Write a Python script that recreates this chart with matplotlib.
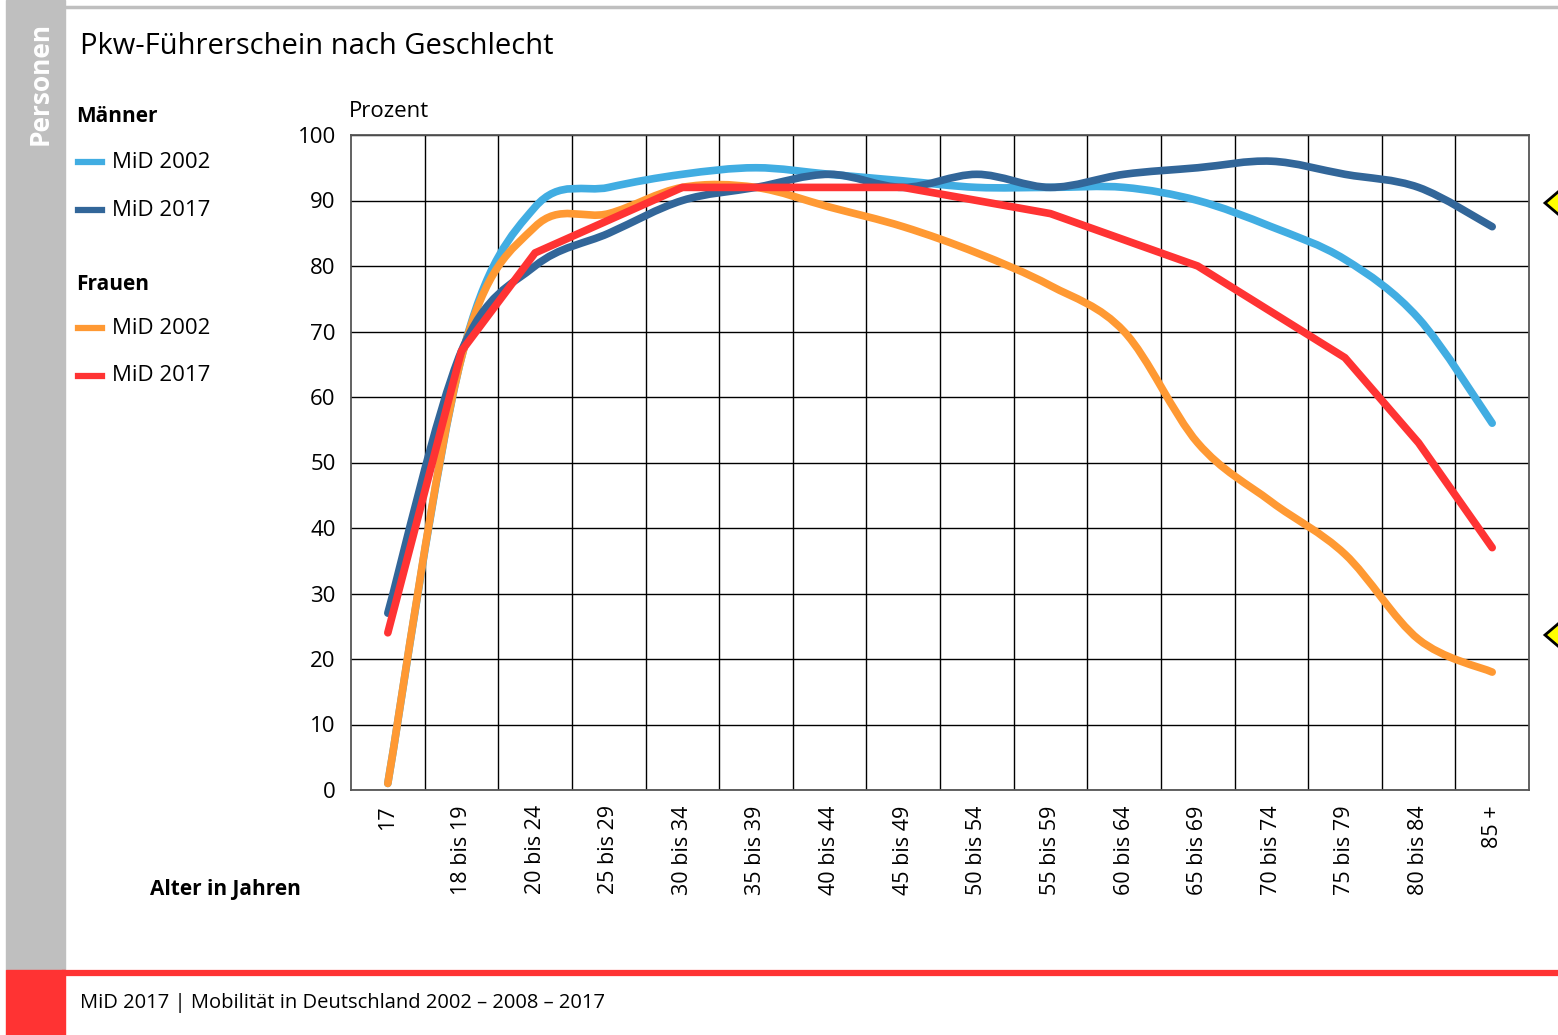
import numpy as np
import matplotlib
matplotlib.use("Agg")
import matplotlib.pyplot as plt
from matplotlib.path import Path
from matplotlib.patches import PathPatch, Rectangle, Polygon
from matplotlib.lines import Line2D

plt.rcParams["font.family"] = ["Open Sans", "DejaVu Sans"]

ages = ["17", "18 bis 19", "20 bis 24", "25 bis 29", "30 bis 34", "35 bis 39",
        "40 bis 44", "45 bis 49", "50 bis 54", "55 bis 59", "60 bis 64",
        "65 bis 69", "70 bis 74", "75 bis 79", "80 bis 84", "85 +"]

maenner_2002 = [1, 66, 89, 92, 94, 95, 94, 93, 92, 92, 92, 90, 86, 81, 72, 56]
maenner_2017 = [27, 67, 80, 85, 90, 92, 94, 92, 94, 92, 94, 95, 96, 94, 92, 86]
frauen_2002 = [1, 66, 86, 88, 92, 92, 89, 86, 82, 77, 70, 53, 44, 36, 23, 18]
frauen_2017 = [24, 67, 82, 87, 92, 92, 92, 92, 90, 88, 84, 80, 73, 66, 53, 37]

c_lblue = "#41ade2"
c_dblue = "#326699"
c_orange = "#ff9933"
c_red = "#ff3333"


def smooth_path(y):
    # Bezier curve through the points (like a smoothed Excel line)
    x = np.arange(len(y), dtype=float)
    y = np.asarray(y, dtype=float)
    n = len(y)
    verts = [(x[0], y[0])]
    codes = [Path.MOVETO]
    for i in range(n - 1):
        p0 = np.array([x[max(i - 1, 0)], y[max(i - 1, 0)]])
        p1 = np.array([x[i], y[i]])
        p2 = np.array([x[i + 1], y[i + 1]])
        p3 = np.array([x[min(i + 2, n - 1)], y[min(i + 2, n - 1)]])
        c1 = p1 + (p2 - p0) / 6
        c2 = p2 - (p3 - p1) / 6
        verts += [tuple(c1), tuple(c2), tuple(p2)]
        codes += [Path.CURVE4] * 3
    return Path(verts, codes)


fig = plt.figure(figsize=(15.58, 10.35), dpi=100)

# page decoration
fig.patches.append(Rectangle((6 / 1558, 1 - 970 / 1035), 59 / 1558, 970 / 1035,
                             transform=fig.transFigure, color="#bfbfbf", zorder=0))
fig.patches.append(Rectangle((6 / 1558, 0), 59 / 1558, 65 / 1035,
                             transform=fig.transFigure, color="#ff3333", zorder=0))
fig.lines.append(Line2D([65 / 1558, 1], [1 - 973 / 1035] * 2, transform=fig.transFigure,
                        color="#ff3333", lw=4.5))
fig.lines.append(Line2D([65 / 1558, 1], [1 - 7 / 1035] * 2, transform=fig.transFigure,
                        color="#bfbfbf", lw=2.5))
fig.text(40 / 1558, 1 - 83 / 1035, "Personen", rotation=90, color="white",
         fontsize=19, fontweight="bold", ha="center", va="center")

for yc in [203, 635]:
    pts = [(1545 / 1558, 1 - yc / 1035), (1565 / 1558, 1 - (yc - 17) / 1035),
           (1585 / 1558, 1 - yc / 1035), (1565 / 1558, 1 - (yc + 17) / 1035)]
    fig.patches.append(Polygon(pts, closed=True, transform=fig.transFigure,
                               facecolor="#ffff00", edgecolor="black", lw=2))

fig.text(80 / 1558, 1 - 46 / 1035, "Pkw-Führerschein nach Geschlecht",
         fontsize=21, va="center", ha="left")
fig.text(80 / 1558, 1 - 1003 / 1035, "MiD 2017 | Mobilität in Deutschland 2002 – 2008 – 2017",
         fontsize=14.5, va="center", ha="left")

# legend
fig.text(76 / 1558, 1 - 117 / 1035, "Männer", fontsize=15, fontweight="bold", va="center")
fig.text(76 / 1558, 1 - 284 / 1035, "Frauen", fontsize=15, fontweight="bold", va="center")
for yy, col, lab in [(162, c_lblue, "MiD 2002"), (210, c_dblue, "MiD 2017"),
                     (328, c_orange, "MiD 2002"), (376, c_red, "MiD 2017")]:
    fig.lines.append(Line2D([78 / 1558, 102 / 1558], [1 - yy / 1035] * 2,
                            transform=fig.transFigure, color=col, lw=4.5))
    fig.text(112 / 1558, 1 - yy / 1035, lab, fontsize=16, va="center")

fig.text(150 / 1558, 1 - 889 / 1035, "Alter in Jahren", fontsize=15,
         fontweight="bold", va="center")

ax = fig.add_axes([351 / 1558, 1 - 790 / 1035, 1178 / 1558, 655 / 1035])
ax.set_xlim(-0.5, len(ages) - 0.5)
ax.set_ylim(0, 100)
ax.set_yticks(range(0, 101, 10))
ax.set_xticks(range(len(ages)))
ax.set_xticklabels(ages, rotation=90, fontsize=15.5)
ax.tick_params(axis="y", labelsize=16, length=0, pad=11)
ax.tick_params(axis="x", length=0, pad=11)
ax.set_xticks(np.arange(0.5, len(ages) - 0.5, 1), minor=True)
ax.tick_params(which="minor", length=0)
ax.grid(True, which="major", axis="y", color="black", lw=1)
ax.grid(True, which="minor", axis="x", color="black", lw=1)
ax.grid(False, which="major", axis="x")
for s in ax.spines.values():
    s.set_color("#555555")
    s.set_linewidth(1.3)
ax.set_axisbelow(True)
ax.text(-0.002, 1.02, "Prozent", fontsize=16, ha="left", va="bottom",
        transform=ax.transAxes)

for ys, col in [(maenner_2002, c_lblue), (frauen_2002, c_orange), (maenner_2017, c_dblue)]:
    ax.add_patch(PathPatch(smooth_path(ys), fill=False, edgecolor=col, lw=5.5,
                           capstyle="round", joinstyle="round", zorder=3))
ax.plot(range(len(ages)), frauen_2017, color=c_red, lw=5.5, solid_capstyle="round",
        solid_joinstyle="round", zorder=4)

fig.savefig("out.png", dpi=100)
